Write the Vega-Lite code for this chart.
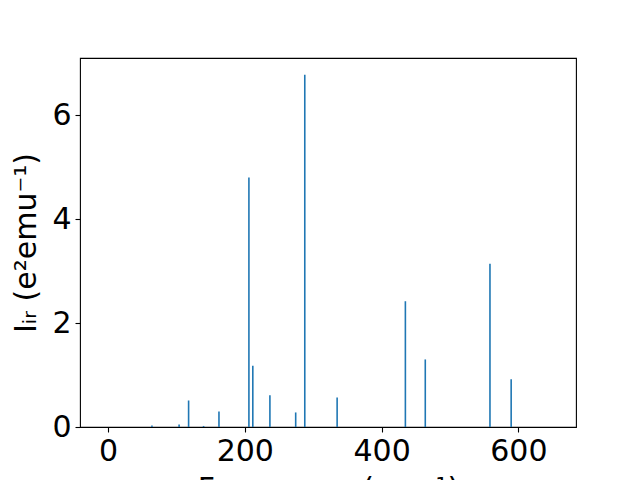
{
  "$schema": "https://vega.github.io/schema/vega-lite/v6.json",
  "width": 496,
  "height": 369,
  "autosize": "none",
  "padding": {"left": 80, "top": 58, "right": 64, "bottom": 53},
  "background": "white",
  "config": {
    "view": {"stroke": "black", "strokeWidth": 1.1},
    "axis": {
      "domain": false,
      "grid": false,
      "tickColor": "black",
      "tickSize": 5,
      "tickWidth": 1.1,
      "labelFont": "DejaVu Sans",
      "labelFontSize": 30,
      "labelColor": "black",
      "labelPadding": 4,
      "titleFont": "DejaVu Sans",
      "titleFontSize": 30,
      "titleFontWeight": "normal",
      "titleColor": "black"
    }
  },
  "data": {
    "values": [
      {"freq": 64.2, "intensity": 0.03},
      {"freq": 103.9, "intensity": 0.05},
      {"freq": 117.8, "intensity": 0.51},
      {"freq": 139.7, "intensity": 0.02},
      {"freq": 162.2, "intensity": 0.3},
      {"freq": 206, "intensity": 4.8},
      {"freq": 211.7, "intensity": 1.18},
      {"freq": 236.7, "intensity": 0.61},
      {"freq": 274.4, "intensity": 0.28},
      {"freq": 287.7, "intensity": 6.78},
      {"freq": 335, "intensity": 0.57},
      {"freq": 434.8, "intensity": 2.42},
      {"freq": 463.9, "intensity": 1.3},
      {"freq": 558.5, "intensity": 3.14},
      {"freq": 589.5, "intensity": 0.92}
    ]
  },
  "mark": {"type": "bar", "width": 1.6, "color": "#1f77b4"},
  "encoding": {
    "x": {
      "field": "freq",
      "type": "quantitative",
      "scale": {"domain": [-33.7, 677], "nice": false, "zero": false},
      "axis": {"values": [0, 200, 400, 600], "title": "Frequency (cm⁻¹)", "titlePadding": 8, "labelFlush": false}
    },
    "y": {
      "field": "intensity",
      "type": "quantitative",
      "scale": {"domain": [0, 7.1], "nice": false},
      "axis": {"values": [0, 2, 4, 6], "title": "Iᵢᵣ (e²emu⁻¹)", "titlePadding": 10, "labelFlush": false}
    }
  }
}
